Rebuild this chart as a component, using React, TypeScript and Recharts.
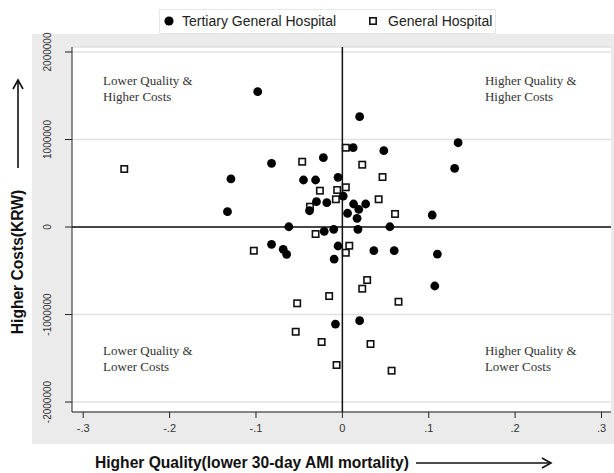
import {
  ScatterChart,
  Scatter,
  XAxis,
  YAxis,
  CartesianGrid,
  ReferenceLine,
  ReferenceDot,
} from "recharts";

// Tertiary general hospitals (filled circles): x = 30-day AMI mortality gap, y = cost gap (KRW)
const tertiaryX = [
  -0.098, -0.082, -0.022, -0.129, -0.045, -0.031, -0.03, -0.018, -0.038, -0.133,
  -0.062, -0.021, 0.02, 0.0125, 0.048, 0.134, 0.13, -0.005, 0.001, 0.013,
  0.027, 0.019, 0.006, 0.017, 0.104, 0.055, 0.018, -0.01, -0.005, -0.0095,
  0.0365, 0.06, 0.11, 0.107, -0.008, 0.02, -0.082, -0.0685, -0.0645,
];
const tertiaryY = [
  1546000, 728000, 792000, 549000, 537000, 537000, 289000, 278000, 186000, 175000,
  3000, -49000, 1261000, 906000, 872000, 963000, 671000, 568000, 354000, 263000,
  263000, 202000, 157000, 99000, 137000, 3000, -26000, -26000, -217000, -366000,
  -271000, -271000, -309000, -674000, -1109000, -1071000, -198000, -255000, -312000,
];

// General hospitals (open squares)
const generalX = [
  -0.0465, -0.026, -0.0375, -0.031, 0.004, 0.023, 0.0465, -0.006, 0.004, -0.0075,
  0.042, 0.061, 0.008, 0.004, 0.0287, 0.023, 0.065, -0.0153, -0.024, 0.0326,
  -0.0067, 0.057, -0.1025, -0.0523, -0.054, -0.2525,
];
const generalY = [
  746000, 415000, 232000, -80000, 906000, 712000, 571000, 423000, 454000, 317000,
  317000, 149000, -214000, -294000, -606000, -705000, -854000, -789000, -1314000, -1337000,
  -1577000, -1642000, -271000, -872000, -1197000, 663000,
];

const xTicks = [-0.3, -0.2, -0.1, 0, 0.1, 0.2, 0.3];
const yTicks = [-2000000, -1000000, 0, 1000000, 2000000];

const quadrantLines = [
  ["Lower Quality &", "Higher Costs"],
  ["Higher Quality &", "Higher Costs"],
  ["Lower Quality &", "Lower Costs"],
  ["Higher Quality &", "Lower Costs"],
];
const quadrantX = [-0.277, 0.165, -0.277, 0.165];
const quadrantY = [1669000, 1669000, -1406000, -1406000];

const tertiary = tertiaryX.map((x, i) => ({ x, y: tertiaryY[i] }));
const general = generalX.map((x, i) => ({ x, y: generalY[i] }));

const sans = "'Liberation Sans', Arial, sans-serif";

const FilledDot = (p: any) => <circle cx={p.cx} cy={p.cy} r={4.4} fill="#000" />;
const OpenBox = (p: any) => (
  <rect
    x={p.cx - 3.2}
    y={p.cy - 3.2}
    width={6.4}
    height={6.4}
    fill="#fff"
    stroke="#111"
    strokeWidth={1.6}
  />
);

const fmtX = (v: number) => {
  if (v === 0) return "0";
  const d = Math.round(Math.abs(v) * 10);
  return (v < 0 ? "-" : "") + "." + d;
};

const YTick = ({ x, y, payload }: any) => (
  <text
    x={x}
    y={y}
    transform={`rotate(-90 ${x} ${y})`}
    textAnchor="middle"
    fontSize={10}
    fontFamily={sans}
    fill="#333"
  >
    {payload.value}
  </text>
);

const QuadLabel = (lines: string[]) => (props: any) => {
  const vb = props.viewBox || {};
  return (
    <text
      x={vb.x}
      y={vb.y}
      fontFamily="'Liberation Serif', 'Times New Roman', serif"
      fontSize={13}
      fill="#333"
    >
      <tspan x={vb.x} dy={4.5}>
        {lines[0]}
      </tspan>
      <tspan x={vb.x} dy={16}>
        {lines[1]}
      </tspan>
    </text>
  );
};

export default function App() {
  return (
    <div
      style={{
        position: "absolute",
        left: 0,
        top: 0,
        width: 614,
        height: 473,
        background: "#fff",
        overflow: "hidden",
      }}
    >
      {/* grey graph region behind the plot */}
      <div
        style={{
          position: "absolute",
          left: 32,
          top: 34,
          width: 582,
          height: 410,
          background: "#ebebeb",
        }}
      />

      <div style={{ position: "absolute", left: 0, top: 0 }}>
        <ScatterChart
          width={614}
          height={473}
          margin={{ top: 47, right: 3, bottom: 31, left: 0 }}
        >
          <CartesianGrid
            vertical={false}
            fill="#fff"
            stroke="#e0e0e0"
            strokeWidth={1.5}
          />
          <XAxis
            type="number"
            dataKey="x"
            domain={[-0.313, 0.311]}
            ticks={xTicks}
            tickFormatter={fmtX}
            allowDataOverflow
            height={30}
            tickSize={6}
            tickMargin={6}
            stroke="#222"
            tick={{ fontSize: 11, fill: "#333", fontFamily: sans }}
          />
          <YAxis
            type="number"
            dataKey="y"
            domain={[-2114000, 2057000]}
            ticks={yTicks}
            allowDataOverflow
            width={72}
            tickSize={7}
            tickMargin={14}
            stroke="#222"
            tick={<YTick />}
          />
          <ReferenceLine x={0} stroke="#111" strokeWidth={1.5} />
          <ReferenceLine y={0} stroke="#111" strokeWidth={1.5} />
          {quadrantLines.map((lines, i) => (
            <ReferenceDot
              key={i}
              x={quadrantX[i]}
              y={quadrantY[i]}
              r={0}
              stroke="none"
              fill="none"
              label={QuadLabel(lines)}
            />
          ))}
          <Scatter
            name="General Hospital"
            data={general}
            shape={OpenBox}
            isAnimationActive={false}
          />
          <Scatter
            name="Tertiary General Hospital"
            data={tertiary}
            shape={FilledDot}
            isAnimationActive={false}
          />
        </ScatterChart>
      </div>

      {/* legend */}
      <div
        style={{
          position: "absolute",
          left: 159,
          top: 9,
          width: 337,
          height: 25,
          background: "#fff",
          border: "1px solid #e6e6e6",
          boxSizing: "border-box",
          fontFamily: sans,
          fontSize: 14,
          color: "#222",
        }}
      >
        <svg
          width={12}
          height={12}
          style={{ position: "absolute", left: 3, top: 5 }}
        >
          <circle cx={6} cy={6} r={4.6} fill="#000" />
        </svg>
        <span style={{ position: "absolute", left: 22, top: 3, whiteSpace: "nowrap" }}>
          Tertiary General Hospital
        </span>
        <svg
          width={12}
          height={12}
          style={{ position: "absolute", left: 207, top: 5 }}
        >
          <rect x={2.8} y={2.8} width={6.4} height={6.4} fill="#fff" stroke="#111" strokeWidth={1.6} />
        </svg>
        <span style={{ position: "absolute", left: 228, top: 3, whiteSpace: "nowrap" }}>
          General Hospital
        </span>
      </div>

      {/* x axis title with arrow */}
      <div
        style={{
          position: "absolute",
          left: 95,
          top: 454,
          fontFamily: sans,
          fontWeight: "bold",
          fontSize: 15.6,
          lineHeight: "18px",
          color: "#111",
          whiteSpace: "nowrap",
        }}
      >
        Higher Quality(lower 30-day AMI mortality)
      </div>
      <svg
        width={614}
        height={473}
        style={{ position: "absolute", left: 0, top: 0, pointerEvents: "none" }}
      >
        <line x1={416} y1={463} x2={551} y2={463} stroke="#111" strokeWidth={1.6} />
        <polyline points="542,458 551,463 542,468" fill="none" stroke="#111" strokeWidth={1.6} />
        <line x1={18} y1={168} x2={18} y2={80} stroke="#111" strokeWidth={1.6} />
        <polyline points="13,89 18,80 23,89" fill="none" stroke="#111" strokeWidth={1.6} />
      </svg>

      {/* y axis title */}
      <div
        style={{
          position: "absolute",
          left: -82,
          top: 253,
          width: 200,
          height: 18,
          textAlign: "center",
          transform: "rotate(-90deg)",
          fontFamily: sans,
          fontWeight: "bold",
          fontSize: 15.6,
          lineHeight: "18px",
          color: "#111",
          whiteSpace: "nowrap",
        }}
      >
        Higher Costs(KRW)
      </div>
    </div>
  );
}
